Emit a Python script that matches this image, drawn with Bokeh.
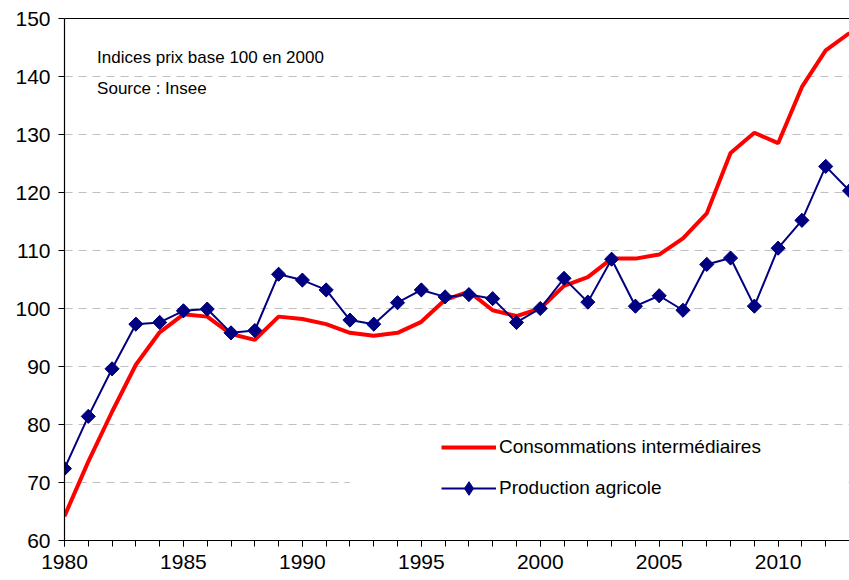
import math
from bokeh.plotting import figure
from bokeh.models import (FixedTicker, Legend, LegendItem, Label, BoxAnnotation, Range1d, LinearAxis)
from bokeh.embed import file_html
from bokeh.resources import INLINE

years = list(range(1980, 2014))
consommations = [64.2, 73.6, 82.2, 90.3, 95.9, 99.0, 98.6, 95.6, 94.6, 98.6,
                 98.2, 97.3, 95.8, 95.3, 95.8, 97.7, 101.5, 102.9, 99.7, 98.7,
                 100.0, 103.9, 105.4, 108.6, 108.6, 109.3, 112.1, 116.4, 126.8, 130.3,
                 128.5, 138.2, 144.5, 147.5]
production = [72.4, 81.4, 89.6, 97.3, 97.6, 99.6, 99.9, 95.8, 96.2, 105.9,
              104.9, 103.2, 98.0, 97.3, 101.0, 103.2, 102.0, 102.4, 101.7, 97.6,
              100.0, 105.2, 101.1, 108.5, 100.4, 102.2, 99.7, 107.6, 108.7, 100.4,
              110.4, 115.2, 124.5, 120.3]
x_ticks = [1980, 1985, 1990, 1995, 2000, 2005, 2010]
y_ticks = [60, 70, 80, 90, 100, 110, 120, 130, 140, 150]
label_conso = "Consommations intermédiaires"
label_prod = "Production agricole"
note1 = "Indices prix base 100 en 2000"
note2 = "Source : Insee"

FONT = "Liberation Sans"

p = figure(width=849, height=580, x_range=Range1d(1980, 2013), y_range=Range1d(60, 150),
           output_backend="svg", toolbar_location=None,
           min_border_left=64, min_border_top=18, min_border_right=0, min_border_bottom=40)
p.outline_line_color = None
p.background_fill_color = "white"
p.border_fill_color = "white"

p.xgrid.visible = False
p.ygrid.grid_line_color = "#C0C0C0"
p.ygrid.grid_line_dash = "8 6"
p.ygrid.grid_line_width = 1

p.xaxis.ticker = FixedTicker(ticks=x_ticks, minor_ticks=years)
p.yaxis.ticker = FixedTicker(ticks=y_ticks, minor_ticks=[])
for ax in (p.xaxis, p.yaxis):
    ax.axis_line_color = "black"
    ax.axis_line_width = 1.2
    ax.major_tick_in = 0
    ax.major_tick_out = 6
    ax.minor_tick_in = 0
    ax.major_tick_line_color = "black"
    ax.major_label_text_font = FONT
    ax.major_label_text_font_size = "21px"
    ax.major_label_text_color = "black"
p.xaxis.minor_tick_out = 6
p.xaxis.minor_tick_line_color = "black"
p.xaxis.major_label_standoff = 8
p.yaxis.major_label_standoff = 8
p.yaxis.minor_tick_line_color = None

# top frame line
top_axis = LinearAxis(ticker=FixedTicker(ticks=[], minor_ticks=[]),
                      major_label_text_font_size="0px", major_tick_out=0, major_tick_in=0,
                      minor_tick_out=0, minor_tick_in=0,
                      axis_line_color="black", axis_line_width=1.2, major_label_standoff=0)
p.add_layout(top_axis, "above")

# white background behind legend (hides the gridline as in the original)
p.add_layout(BoxAnnotation(left=1992, right=2012.9, bottom=63.5, top=78.5,
                           fill_color="white", fill_alpha=1.0, line_alpha=0))

r_red = p.line(years, consommations, line_color="#FF0000", line_width=4)
r_blue = p.line(years, production, line_color="#000080", line_width=2)
# diamond markers (used for the legend swatch), covered by the rotated squares below
r_swatch = p.scatter(years, production, marker="diamond", size=13,
                     fill_color="#000080", line_color="#000080")
r_mark = p.scatter(years, production, marker="square", size=10, angle=math.pi / 4,
                   fill_color="#000080", line_color="#000080")

legend = Legend(items=[LegendItem(label=label_conso, renderers=[r_red]),
                       LegendItem(label=label_prod, renderers=[r_blue, r_swatch])],
                location=(377, 35), orientation="vertical",
                border_line_alpha=0, background_fill_alpha=0,
                padding=0, margin=0, spacing=7,
                glyph_width=55, glyph_height=34, label_height=20,
                label_standoff=3,
                label_text_font=FONT, label_text_font_size="19px",
                label_text_color="black")
p.add_layout(legend)

for txt, yv in ((note1, 143.3), (note2, 137.95)):
    p.add_layout(Label(x=1981.37, y=yv, text=txt, text_baseline="middle",
                       text_font=FONT, text_font_size="17px", text_color="black"))

open("out.html", "w").write(file_html(p, INLINE))
